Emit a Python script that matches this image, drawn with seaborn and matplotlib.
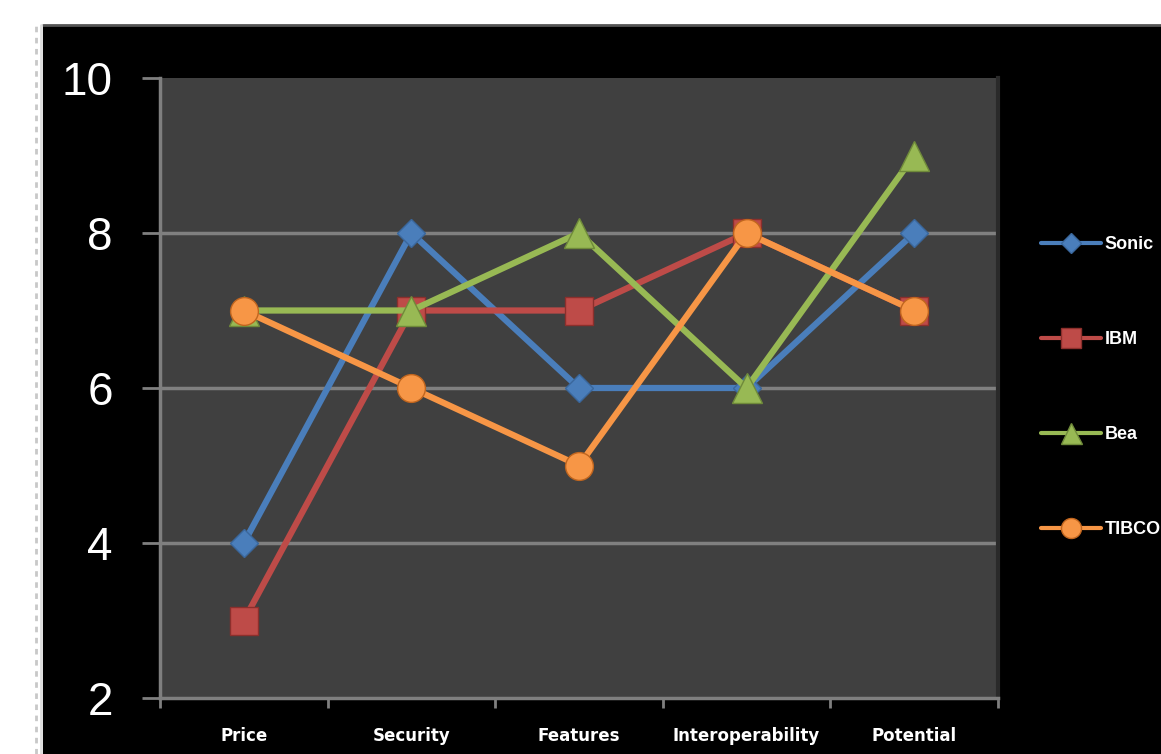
import matplotlib
matplotlib.use("Agg")
import matplotlib.pyplot as plt
import matplotlib.patches as mpatches
from matplotlib.lines import Line2D
import seaborn as sns
import pandas as pd

categories = ["Price", "Security", "Features", "Interoperability", "Potential"]
sonic = [4, 8, 6, 6, 8]
ibm = [3, 7, 7, 8, 7]
bea = [7, 7, 8, 6, 9]
tibco = [7, 6, 5, 8, 7]
series_names = ["Sonic", "IBM", "Bea", "TIBCO"]
y_ticks = [2, 4, 6, 8, 10]

colors = {"Sonic": "#4a7ebb", "IBM": "#be4b48", "Bea": "#98b954", "TIBCO": "#f79646"}
edge = {"Sonic": "#3a679c", "IBM": "#8c2f2c", "Bea": "#6f8a3a", "TIBCO": "#c0651e"}
markers = {"Sonic": "D", "IBM": "s", "Bea": "^", "TIBCO": "o"}
msizes = {"Sonic": 14, "IBM": 20, "Bea": 21, "TIBCO": 20}

rows = []
for name, vals in zip(series_names, [sonic, ibm, bea, tibco]):
    for i, (c, v) in enumerate(zip(categories, vals)):
        rows.append({"series": name, "cat": c, "pos": i, "value": v})
df = pd.DataFrame(rows)

sns.set_theme(style="dark")
W, H = 1161, 754
fig = plt.figure(figsize=(W / 100, H / 100), dpi=100)
fig.patch.set_facecolor("white")

# black chart area
fig.add_artist(mpatches.Rectangle((43 / W, 0), (W - 43) / W, (H - 25) / H,
                                  transform=fig.transFigure, facecolor="black",
                                  edgecolor="none", zorder=0))
fig.add_artist(Line2D([43 / W, 1], [(H - 25) / H] * 2, transform=fig.transFigure,
                      color="#555555", lw=2, zorder=1))
fig.add_artist(Line2D([41 / W] * 2, [0, (H - 25) / H], transform=fig.transFigure,
                      color="#dddddd", lw=2, zorder=1))
fig.add_artist(Line2D([36 / W] * 2, [0, (H - 22) / H], transform=fig.transFigure,
                      color="#c8c8c8", lw=2, ls=(0, (2, 2)), zorder=1))

ax = fig.add_axes([160 / W, (H - 698) / H, 838 / W, 620 / H])
ax.set_facecolor("#404040")

for name in series_names:
    sub = df[df["series"] == name]
    sns.lineplot(data=sub, x="pos", y="value", ax=ax, color=colors[name],
                 marker=markers[name], markersize=msizes[name], linewidth=4.5,
                 markeredgecolor=edge[name], markeredgewidth=1,
                 label=name, legend=False, zorder=3)

ax.set_xlim(-0.5, 4.5)
ax.set_ylim(2, 10)
ax.set_yticks(y_ticks)
ax.set_yticklabels([str(t) for t in y_ticks], fontsize=33, color="white",
                   family="Liberation Sans")
ax.set_xticks(range(len(categories)))
ax.set_xticklabels(categories, fontsize=12, color="white", fontweight="bold")
ax.set_xticks([-0.5 + i for i in range(6)], minor=True)
ax.tick_params(axis="x", which="major", length=0, pad=21)
ax.tick_params(axis="x", which="minor", length=7, width=2, color="#7f7f7f",
               direction="out", bottom=True)
ax.tick_params(axis="y", length=13, width=2, color="#7f7f7f", direction="out",
               left=True, pad=21)
ax.set_xlabel("")
ax.set_ylabel("")
ax.grid(False)
for yv in [4, 6, 8]:
    ax.axhline(yv, color="#808080", lw=2.5, zorder=1)
for s in ["top", "right"]:
    ax.spines[s].set_visible(False)
for s in ["left", "bottom"]:
    ax.spines[s].set_visible(True)
    ax.spines[s].set_color("#7f7f7f")
    ax.spines[s].set_linewidth(2.5)
ax.spines["right"].set_visible(True)
ax.spines["right"].set_color("#2a2a2a")
ax.spines["right"].set_linewidth(3)

# legend
handles = [Line2D([0], [0], color=colors[n], lw=3, marker=markers[n],
                  markersize=msizes[n] * 0.72, markeredgecolor=edge[n])
           for n in series_names]
leg = fig.legend(handles, series_names, loc="upper left",
                 bbox_to_anchor=(1034 / W, (H - 229) / H), frameon=False,
                 prop={"family": "Liberation Sans", "weight": "bold", "size": 13},
                 labelcolor="white", handlelength=3.3,
                 handletextpad=0.2, labelspacing=4.32, borderaxespad=0)

fig.savefig("out.png", dpi=100, facecolor=fig.get_facecolor())
